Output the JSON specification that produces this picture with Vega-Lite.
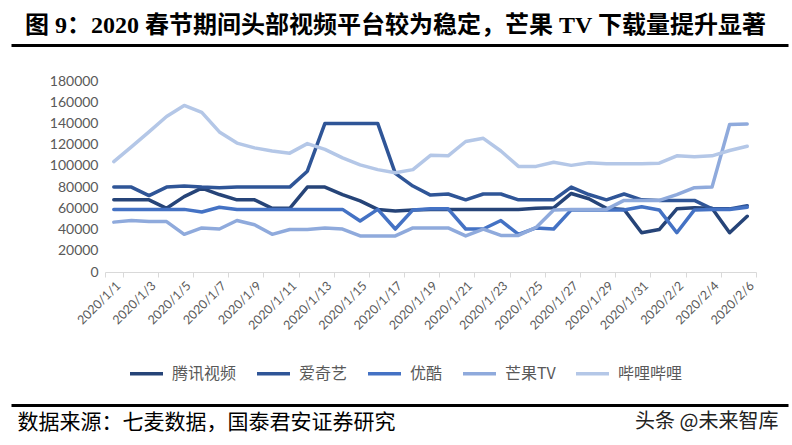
{
  "$schema": "https://vega.github.io/schema/vega-lite/v6.json",
  "background": "white",
  "padding": {"left": 8, "top": 14, "right": 5, "bottom": 8},
  "spacing": 26,
  "config": {"view": {"stroke": null}, "font": "Noto Sans CJK SC"},
  "vconcat": [
    {
      "width": 651,
      "height": 1,
      "title": {"text": "图 9：2020 春节期间头部视频平台较为稳定，芒果 TV 下载量提升显著", "anchor": "start", "frame": "group", "font": "Liberation Serif, Noto Sans CJK SC", "fontSize": 24, "fontWeight": "bold", "color": "#000000", "dx": -80, "offset": 4},
      "data": {"values": [{"v": 0}]},
      "mark": {"type": "point", "opacity": 0},
      "encoding": {
        "x": {"field": "v", "type": "quantitative", "scale": {"domain": [0, 1], "range": [-94, 683]}, "axis": {"orient": "bottom", "domainColor": "#000000", "domainWidth": 3, "ticks": false, "labels": false, "grid": false, "title": null}},
        "y": {"field": "v", "type": "quantitative", "scale": {"domain": [0, 1]}, "axis": null}
      }
    },
    {
      "width": 651,
      "height": 191,
      "data": {"values": [
        {"date": "2020/1/1", "腾讯视频": 68000, "爱奇艺": 80000, "优酷": 59000, "芒果TV": 47000, "哔哩哔哩": 104000},
        {"date": "2020/1/2", "腾讯视频": 68000, "爱奇艺": 80000, "优酷": 59000, "芒果TV": 48500, "哔哩哔哩": 118000},
        {"date": "2020/1/3", "腾讯视频": 68000, "爱奇艺": 72000, "优酷": 59000, "芒果TV": 47500, "哔哩哔哩": 132000},
        {"date": "2020/1/4", "腾讯视频": 60000, "爱奇艺": 80000, "优酷": 59000, "芒果TV": 47500, "哔哩哔哩": 146500},
        {"date": "2020/1/5", "腾讯视频": 71000, "爱奇艺": 81000, "优酷": 59000, "芒果TV": 35500, "哔哩哔哩": 157000},
        {"date": "2020/1/6", "腾讯视频": 79000, "爱奇艺": 80000, "优酷": 56500, "芒果TV": 41500, "哔哩哔哩": 150500},
        {"date": "2020/1/7", "腾讯视频": 73000, "爱奇艺": 79500, "优酷": 61000, "芒果TV": 40500, "哔哩哔哩": 132000},
        {"date": "2020/1/8", "腾讯视频": 68000, "爱奇艺": 80000, "优酷": 59000, "芒果TV": 48500, "哔哩哔哩": 121500},
        {"date": "2020/1/9", "腾讯视频": 68000, "爱奇艺": 80000, "优酷": 59000, "芒果TV": 44500, "哔哩哔哩": 117000},
        {"date": "2020/1/10", "腾讯视频": 60000, "爱奇艺": 80000, "优酷": 59000, "芒果TV": 35500, "哔哩哔哩": 114000},
        {"date": "2020/1/11", "腾讯视频": 60000, "爱奇艺": 80000, "优酷": 59000, "芒果TV": 40000, "哔哩哔哩": 112000},
        {"date": "2020/1/12", "腾讯视频": 80000, "爱奇艺": 95000, "优酷": 59000, "芒果TV": 40000, "哔哩哔哩": 121000},
        {"date": "2020/1/13", "腾讯视频": 80000, "爱奇艺": 140000, "优酷": 59000, "芒果TV": 41500, "哔哩哔哩": 115500},
        {"date": "2020/1/14", "腾讯视频": 73000, "爱奇艺": 140000, "优酷": 59000, "芒果TV": 40500, "哔哩哔哩": 107500},
        {"date": "2020/1/15", "腾讯视频": 67000, "爱奇艺": 140000, "优酷": 48000, "芒果TV": 34000, "哔哩哔哩": 101000},
        {"date": "2020/1/16", "腾讯视频": 59000, "爱奇艺": 140000, "优酷": 59000, "芒果TV": 34000, "哔哩哔哩": 96500},
        {"date": "2020/1/17", "腾讯视频": 57500, "爱奇艺": 93000, "优酷": 40500, "芒果TV": 34000, "哔哩哔哩": 93500},
        {"date": "2020/1/18", "腾讯视频": 58500, "爱奇艺": 81000, "优酷": 58500, "芒果TV": 41500, "哔哩哔哩": 96500},
        {"date": "2020/1/19", "腾讯视频": 59000, "爱奇艺": 72500, "优酷": 59500, "芒果TV": 41500, "哔哩哔哩": 110000},
        {"date": "2020/1/20", "腾讯视频": 59000, "爱奇艺": 73500, "优酷": 59500, "芒果TV": 41500, "哔哩哔哩": 109500},
        {"date": "2020/1/21", "腾讯视频": 59000, "爱奇艺": 68000, "优酷": 40500, "芒果TV": 34000, "哔哩哔哩": 123000},
        {"date": "2020/1/22", "腾讯视频": 59000, "爱奇艺": 73500, "优酷": 40500, "芒果TV": 40500, "哔哩哔哩": 126000},
        {"date": "2020/1/23", "腾讯视频": 59000, "爱奇艺": 73500, "优酷": 48500, "芒果TV": 34500, "哔哩哔哩": 114000},
        {"date": "2020/1/24", "腾讯视频": 59000, "爱奇艺": 68000, "优酷": 35500, "芒果TV": 34500, "哔哩哔哩": 99500},
        {"date": "2020/1/25", "腾讯视频": 60000, "爱奇艺": 68000, "优酷": 41500, "芒果TV": 42000, "哔哩哔哩": 99500},
        {"date": "2020/1/26", "腾讯视频": 60500, "爱奇艺": 68000, "优酷": 40500, "芒果TV": 58500, "哔哩哔哩": 103500},
        {"date": "2020/1/27", "腾讯视频": 74000, "爱奇艺": 80000, "优酷": 58500, "芒果TV": 59000, "哔哩哔哩": 100500},
        {"date": "2020/1/28", "腾讯视频": 69000, "爱奇艺": 73000, "优酷": 58500, "芒果TV": 59000, "哔哩哔哩": 103000},
        {"date": "2020/1/29", "腾讯视频": 60000, "爱奇艺": 68000, "优酷": 58500, "芒果TV": 59000, "哔哩哔哩": 102000},
        {"date": "2020/1/30", "腾讯视频": 59000, "爱奇艺": 73500, "优酷": 58500, "芒果TV": 67500, "哔哩哔哩": 102000},
        {"date": "2020/1/31", "腾讯视频": 37000, "爱奇艺": 68000, "优酷": 61500, "芒果TV": 67500, "哔哩哔哩": 102000},
        {"date": "2020/2/1", "腾讯视频": 40000, "爱奇艺": 67500, "优酷": 58500, "芒果TV": 67500, "哔哩哔哩": 102500},
        {"date": "2020/2/2", "腾讯视频": 59500, "爱奇艺": 67500, "优酷": 37000, "芒果TV": 73000, "哔哩哔哩": 109500},
        {"date": "2020/2/3", "腾讯视频": 60500, "爱奇艺": 67500, "优酷": 58500, "芒果TV": 79500, "哔哩哔哩": 108500},
        {"date": "2020/2/4", "腾讯视频": 60000, "爱奇艺": 59500, "优酷": 59000, "芒果TV": 80000, "哔哩哔哩": 109500},
        {"date": "2020/2/5", "腾讯视频": 37000, "爱奇艺": 59500, "优酷": 59000, "芒果TV": 139000, "哔哩哔哩": 114500},
        {"date": "2020/2/6", "腾讯视频": 52500, "爱奇艺": 62500, "优酷": 61000, "芒果TV": 139500, "哔哩哔哩": 118500}
      ]},
      "transform": [{"fold": ["腾讯视频", "爱奇艺", "优酷", "芒果TV", "哔哩哔哩"], "as": ["series", "value"]}],
      "mark": {"type": "line", "strokeWidth": 3.5, "strokeJoin": "round", "strokeCap": "round"},
      "encoding": {
        "x": {
          "field": "date", "type": "ordinal", "sort": null,
          "scale": {"type": "band", "paddingInner": 0, "paddingOuter": 0},
          "axis": {
            "values": ["2020/1/1", "2020/1/3", "2020/1/5", "2020/1/7", "2020/1/9", "2020/1/11", "2020/1/13", "2020/1/15", "2020/1/17", "2020/1/19", "2020/1/21", "2020/1/23", "2020/1/25", "2020/1/27", "2020/1/29", "2020/1/31", "2020/2/2", "2020/2/4", "2020/2/6"],
            "tickBand": "extent", "labelAngle": -45, "labelOverlap": false,
            "labelFont": "Lato", "labelFontSize": 12.5, "labelColor": "#595959",
            "domainColor": "#D9D9D9", "domainWidth": 1, "tickColor": "#D9D9D9", "tickSize": 5,
            "grid": false,
            "title": " ", "titleY": 94, "titleBaseline": "top", "titleFontSize": 10
          }
        },
        "y": {
          "field": "value", "type": "quantitative",
          "scale": {"domain": [0, 180000], "nice": false},
          "axis": {
            "values": [0, 20000, 40000, 60000, 80000, 100000, 120000, 140000, 160000, 180000],
            "format": "d", "domain": false, "ticks": false, "grid": false,
            "labelFont": "Lato", "labelFontSize": 14, "labelColor": "#595959", "labelPadding": 7,
            "title": " ", "titleX": -94, "titleY": 10, "titleAngle": 0, "titleAlign": "left", "titleBaseline": "middle", "titleFontSize": 10
          }
        },
        "color": {
          "field": "series", "type": "nominal",
          "scale": {"domain": ["腾讯视频", "爱奇艺", "优酷", "芒果TV", "哔哩哔哩"], "range": ["#264478", "#2F5597", "#4472C4", "#8FAADC", "#B4C7E7"]},
          "legend": {
            "orient": "none", "legendX": 23, "legendY": 311, "direction": "horizontal", "title": null,
            "symbolType": "stroke", "symbolSize": 1089, "symbolStrokeWidth": 3.5,
            "labelFont": "Noto Sans CJK SC", "labelFontSize": 16, "labelColor": "#595959", "labelOffset": 7,
            "columnPadding": 13
          }
        }
      }
    },
    {
      "width": 651,
      "height": 1,
      "data": {"values": [{"v": 0}]},
      "mark": {"type": "point", "opacity": 0},
      "encoding": {
        "x": {"field": "v", "type": "quantitative", "scale": {"domain": [0, 1], "range": [-94, 683]}, "axis": {"orient": "bottom", "domainColor": "#000000", "domainWidth": 3, "ticks": false, "labels": false, "grid": false, "title": "数据来源：七麦数据，国泰君安证券研究", "titleAnchor": "start", "titleAlign": "left", "titleBaseline": "top", "titleX": -88, "titleY": 6, "titleFont": "Noto Sans CJK SC", "titleFontSize": 21, "titleFontWeight": "normal", "titleColor": "#000000"}},
        "y": {"field": "v", "type": "quantitative", "scale": {"domain": [0, 1]}, "axis": {"orient": "left", "domain": false, "ticks": false, "labels": false, "grid": false, "title": "头条 @未来智库", "titleAngle": 0, "titleAlign": "right", "titleBaseline": "top", "titleX": 673, "titleY": 7, "titleFont": "Noto Sans CJK SC", "titleFontSize": 20, "titleFontWeight": "normal", "titleColor": "#222222"}}
      }
    }
  ]
}
